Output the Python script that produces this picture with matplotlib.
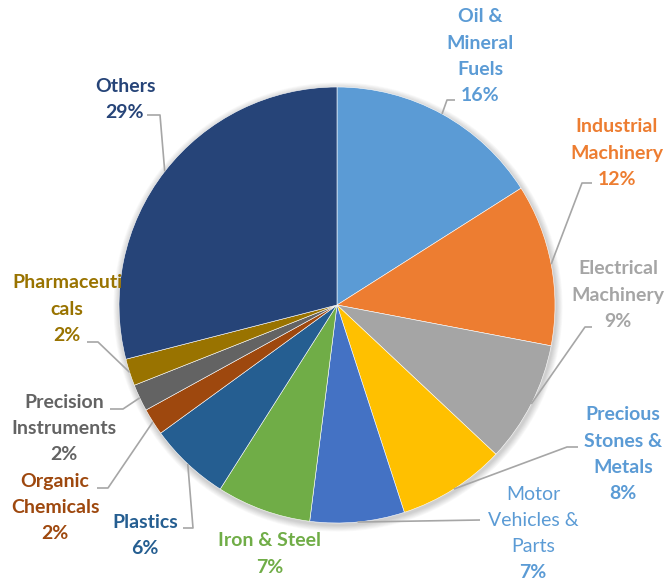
import numpy as np
import matplotlib.pyplot as plt
from matplotlib.patches import Circle

W, H = 666, 583

categories = ["Oil &\nMineral\nFuels", "Industrial\nMachinery", "Electrical\nMachinery",
              "Precious\nStones &\nMetals", "Motor\nVehicles &\nParts", "Iron & Steel",
              "Plastics", "Organic\nChemicals", "Precision\nInstruments",
              "Pharmaceuti\ncals", "Others"]
shares = [16, 12, 9, 8, 7, 7, 6, 2, 2, 2, 29]
slice_colors = ["#5B9BD5", "#ED7D31", "#A5A5A5", "#FFC000", "#4472C4", "#70AD47",
                "#255E91", "#9E480E", "#636363", "#997300", "#264478"]
label_colors = ["#5B9BD5", "#ED7D31", "#A5A5A5", "#5B9BD5", "#5B9BD5", "#70AD47",
                "#255E91", "#9E480E", "#636363", "#997300", "#264478"]
name_bold = [True, True, True, True, False, True, True, True, True, True, True]
pct_bold = [True, True, True, True, True, True, True, True, True, True, True]

# label block placement (pixel coords from top-left): centre x, first line y
label_pos = [(480, 17), (617, 127), (618, 269), (623, 415), (533, 494), (270, 541),
             (145, 522), (55, 481), (64, 402), (67, 283), (125, 86)]
# leader line elbow and end points (None = no leader)
leaders = [((447, 100), (455, 100)), ((582, 183), (592, 183)), ((585, 327), (592, 327)),
           ((567, 447), (578, 447)), ((480, 520), (480, 520)), None,
           ((193, 528), (183, 528)), ((108, 488), (97, 488)), ((123, 409), (110, 409)),
           ((98, 342), (87, 342)), ((160, 115), (147, 115))]

cx, cy, R = 337, H - 305, 218
line_h = 26.2

fig = plt.figure(figsize=(W / 100, H / 100), dpi=100)
ax = fig.add_axes([0, 0, 1, 1])

# soft shadow round the pie
for k in range(8):
    ax.add_patch(Circle((cx + 1, cy - 2), R + 1 + k * 0.8, color="black",
                        alpha=0.025, lw=0, zorder=0))

wedges, _ = ax.pie(shares, colors=slice_colors, startangle=90, counterclock=False,
                   center=(cx, cy), radius=R, frame=True,
                   wedgeprops=dict(edgecolor="white", linewidth=0.4))
ax.set_xlim(0, W)
ax.set_ylim(0, H)
ax.axis("off")

font = "Lato"
fs = 14
for i, w in enumerate(wedges):
    mid = np.deg2rad((w.theta1 + w.theta2) / 2)
    sx, sy = cx + R * np.cos(mid), cy + R * np.sin(mid)
    if leaders[i] is not None:
        (kx, ky), (ex, ey) = leaders[i]
        ax.plot([sx, kx, ex], [sy, H - ky, H - ey], color="#A6A6A6", lw=1.2,
                solid_capstyle="butt", zorder=3)
    x0, y0 = label_pos[i]
    lines = categories[i].split("\n")
    for j, ln in enumerate(lines):
        ax.text(x0, H - (y0 + j * line_h), ln, ha="center", va="center",
                color=label_colors[i], fontsize=fs, family=font,
                fontweight="bold" if name_bold[i] else "normal")
    ax.text(x0, H - (y0 + len(lines) * line_h), f"{shares[i]}%", ha="center",
            va="center", color=label_colors[i], fontsize=fs, family=font,
            fontweight="bold" if pct_bold[i] else "normal")

fig.savefig("out.png", dpi=100)
